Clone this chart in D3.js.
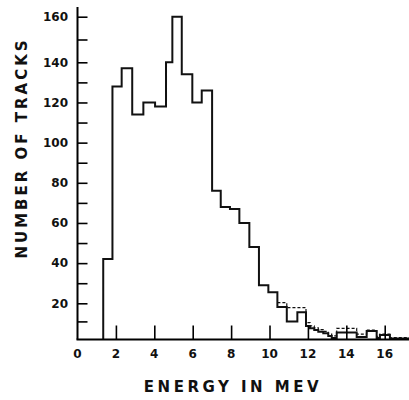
<!DOCTYPE html>
<html>
<head>
<meta charset="utf-8">
<script src="https://cdn.jsdelivr.net/npm/d3@7"></script>
<style>
  body { margin: 0; background: #fff; }
  svg text { font-family: "DejaVu Sans", sans-serif; font-weight: bold; fill: #111; }
</style>
</head>
<body>
<svg id="chart" width="409" height="400"></svg>
<script>
// bin edges (MeV) and track counts
var edges = [1.34, 1.82, 2.30, 2.85, 3.43, 4.04, 4.61, 4.94, 5.43, 5.98, 6.47, 7.01, 7.46, 7.94,
             8.43, 8.95, 9.45, 9.94, 10.41, 10.90, 11.45, 11.90, 12.11, 12.33, 12.54, 12.80,
             13.06, 13.24, 13.50, 14.54, 15.06, 15.58, 15.75, 16.27, 17.3];
var counts = [42, 128, 137, 114, 120, 118, 140, 160, 134, 120, 126, 76, 68, 67, 60, 48, 29, 25.5,
              18, 10, 15, 7.5, 6.2, 5.2, 4.3, 3.4, 1.9, 0.8, 3.8, 1.4, 4.7, 0.8, 2.5, 0.5];
// dashed curve in the tail, starting at edge index 18 (10.41 MeV)
var dashed_start = 18;
var dashed_counts = [20.3, 17.6, 17.6, 9.3, 7.5, 6.5, 5.5, 4.5, 3, 2, 6.2, 3, 5.2, 1.5, 3, 1];

var x_labels = [0, 2, 4, 6, 8, 10, 12, 14, 16];
var y_labels = [20, 40, 60, 80, 100, 120, 140, 160];
var y_minor = [10, 30, 50, 70, 90, 110, 130, 150];

var svg = d3.select('#chart');

var x = d3.scaleLinear()
		.domain([0, 17.4])
		.range([77.5, 411.6]);

// the hand drawn axis is not quite even, so a piecewise scale follows it
var y = d3.scaleLinear()
		.domain([0, 20, 140, 160])
		.range([339.5, 303.3, 62.3, 16.7]);

var line = d3.line()
		.x(function(d) { return x(d[0]); })
		.y(function(d) { return y(d[1]); })
		.curve(d3.curveStepAfter);

// solid histogram
var pts = [[edges[0], 0]];
counts.forEach(function(c, i) { pts.push([edges[i], c]); });
pts.push([edges[edges.length - 1], counts[counts.length - 1]]);
pts.push([edges[edges.length - 1], 0]);

// dashed tail
var dpts = dashed_counts.map(function(c, i) { return [edges[dashed_start + i], c]; });
dpts.push([edges[edges.length - 1], dashed_counts[dashed_counts.length - 1]]);

svg.append('path')
	.attr('d', line(dpts))
	.attr('fill', 'none')
	.attr('stroke', '#111')
	.attr('stroke-width', 1.2)
	.attr('stroke-dasharray', '3,2');

svg.append('path')
	.attr('d', line(pts))
	.attr('fill', 'none')
	.attr('stroke', '#111')
	.attr('stroke-width', 2);

// axes
var y_axis = d3.axisRight(y)
		.tickValues(y_labels.concat(y_minor))
		.tickSize(10)
		.tickFormat('');
svg.append('g')
	.attr('id', 'y-axis')
	.attr('transform', 'translate(' + x(0) + ',0)')
	.call(y_axis)
	.call(function(g) {
		g.select('.domain').attr('d', 'M0,' + y(0) + 'V7').attr('stroke-width', 2);
		g.selectAll('.tick line').attr('stroke-width', 1.6);
	});

var x_axis = d3.axisTop(x)
		.tickValues(x_labels.slice(1))
		.tickSize(14)
		.tickFormat('');
svg.append('g')
	.attr('id', 'x-axis')
	.attr('transform', 'translate(0,' + y(0) + ')')
	.call(x_axis)
	.call(function(g) {
		g.select('.domain').attr('d', 'M' + (x(0) - 1) + ',0H409').attr('stroke-width', 2);
		g.selectAll('.tick line').attr('stroke-width', 1.6);
	});

svg.selectAll('.ylab')
	.data(y_labels)
	.enter().append('text')
	.attr('class', 'ylab')
	.attr('x', 68)
	.attr('y', function(d) { return y(d); })
	.attr('dy', '0.36em')
	.attr('text-anchor', 'end')
	.attr('font-size', 12)
	.text(function(d) { return d; });

svg.selectAll('.xlab')
	.data(x_labels)
	.enter().append('text')
	.attr('class', 'xlab')
	.attr('x', function(d) { return x(d); })
	.attr('y', 354)
	.attr('dy', '0.36em')
	.attr('text-anchor', 'middle')
	.attr('font-size', 12)
	.text(function(d) { return d; });

svg.append('text')
	.attr('x', 233)
	.attr('y', 387)
	.attr('dy', '0.36em')
	.attr('text-anchor', 'middle')
	.attr('font-size', 15)
	.attr('letter-spacing', 3.5)
	.text('ENERGY IN MEV');

svg.append('text')
	.attr('transform', 'translate(22,148) rotate(-90)')
	.attr('dy', '0.36em')
	.attr('text-anchor', 'middle')
	.attr('font-size', 15)
	.attr('letter-spacing', 3)
	.text('NUMBER OF TRACKS');
</script>
</body>
</html>
